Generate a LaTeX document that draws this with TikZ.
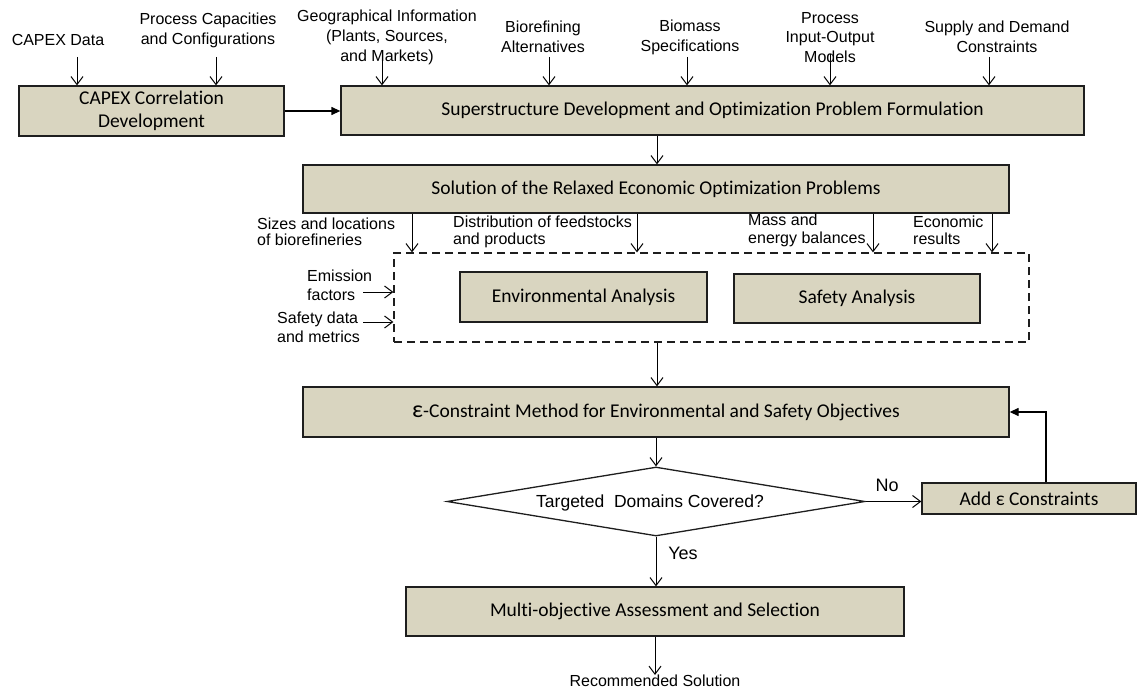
\documentclass[tikz,border=0pt]{standalone}
\usepackage{fontspec}
\setmainfont{Liberation Sans}
\newfontfamily\boxfont[Ligatures=NoCommon]{Carlito}
\usetikzlibrary{arrows.meta,shapes.geometric}
\definecolor{boxfill}{RGB}{217,213,192}
\definecolor{boxline}{RGB}{30,30,30}
\begin{document}
\begin{tikzpicture}[x=1pt,y=-1pt,
 procbox/.style={draw=boxline,line width=1.3pt,fill=boxfill,inner sep=0pt,align=center,font=\boxfont\fontsize{19.5}{23}\selectfont},
 lbl/.style={inner sep=0pt,align=center,font=\fontsize{16}{19.5}\selectfont},
 arr/.style={line width=1pt,-{Straight Barb[length=8pt,width=12pt]}},
 farr/.style={line width=1.3pt,-{Triangle[length=9pt,width=8pt]}},
]
\useasboundingbox (0,0) rectangle (1138,690);

% main boxes
\node[procbox,minimum width=265pt,minimum height=50pt] (capex) at (151.5,111) {CAPEX Correlation\\Development};
\node[procbox,minimum width=743pt,minimum height=49pt] (super) at (712.5,110.5) {Superstructure Development and Optimization Problem Formulation};
\node[procbox,minimum width=706pt,minimum height=48pt] (sol) at (656,189) {Solution of the Relaxed Economic Optimization Problems};
\node[draw=boxline,line width=1.3pt,dash pattern=on 8pt off 5pt,minimum width=635pt,minimum height=89pt,inner sep=0pt] (dash) at (711.5,297.5) {};
\node[procbox,minimum width=247pt,minimum height=50pt] (env) at (583.5,297) {Environmental Analysis};
\node[procbox,minimum width=246pt,minimum height=49pt] (saf) at (857,298.5) {Safety Analysis};
\node[procbox,minimum width=706pt,minimum height=50pt] (eps) at (656,412) {{\fontsize{24}{23}\selectfont ε}-Constraint Method for Environmental and Safety Objectives};
\node[diamond,draw=boxline,line width=1.3pt,fill=white,minimum width=418pt,minimum height=69pt,inner sep=0pt,aspect=6] (dia) at (656,501.5) {};
\node[lbl,font=\fontsize{17.5}{20}\selectfont] (diatxt) at (650,503) {Targeted\ \ Domains Covered?};
\node[procbox,minimum width=214pt,minimum height=31pt] (add) at (1029,498.5) {Add ε Constraints};
\node[procbox,minimum width=498pt,minimum height=49pt] (multi) at (655,611.5) {Multi-objective Assessment and Selection};
\node[lbl] (rec) at (655,681) {Recommended Solution};

% top labels
\node[lbl] (l1) at (58,40) {CAPEX Data};
\node[lbl] (l2) at (208,30.5) {Process Capacities\\and Configurations};
\node[lbl,font=\fontsize{16}{20}\selectfont] (l3) at (387,37) {Geographical Information\\(Plants, Sources,\\and Markets)};
\node[lbl,font=\fontsize{16}{20}\selectfont] (l4) at (543,37) {Biorefining\\Alternatives};
\node[lbl,font=\fontsize{16}{20}\selectfont] (l5) at (690,37) {Biomass\\Specifications};
\node[lbl] (l6) at (830,37.5) {Process\\Input-Output\\Models};
\node[lbl,font=\fontsize{16}{20}\selectfont] (l7) at (997,37) {Supply and Demand\\Constraints};

% top arrows
\coordinate (t1) at (77,57);
\coordinate (t2) at (216,57);
\coordinate (t3) at (382,56);
\coordinate (t4) at (549,57);
\coordinate (t5) at (687,57);
\coordinate (t6) at (830,54);
\coordinate (t7) at (989,57);
\draw[arr] (t1) -- (t1 |- capex.north);
\draw[arr] (t2) -- (t2 |- capex.north);
\draw[arr] (t3) -- (t3 |- super.north);
\draw[arr] (t4) -- (t4 |- super.north);
\draw[arr] (t5) -- (t5 |- super.north);
\draw[arr] (t6) -- (t6 |- super.north);
\draw[arr] (t7) -- (t7 |- super.north);
\draw[farr] (capex.east) -- (capex.east -| super.west);

% middle labels
\node[lbl,align=left,anchor=west,font=\fontsize{16}{16.5}\selectfont] (s1) at (257,232) {Sizes and locations\\of biorefineries};
\node[lbl,align=left,anchor=west,font=\fontsize{16}{16.5}\selectfont] (s2) at (453,232) {Distribution of feedstocks\\and products};
\node[lbl,align=left,anchor=west,font=\fontsize{16}{18}\selectfont] (s3) at (748,230) {Mass and\\energy balances};
\node[lbl,align=left,anchor=west,font=\fontsize{16}{17}\selectfont] (s4) at (913,230.5) {Economic\\results};
\node[lbl,align=left,anchor=west,font=\fontsize{16}{19}\selectfont] (e1) at (307,285.5) {Emission\\factors};
\node[lbl,align=left,anchor=west,font=\fontsize{16}{19}\selectfont] (e2) at (277,327.5) {Safety data\\and metrics};

\coordinate (m) at (657,0);
\coordinate (d1) at (412,0);
\coordinate (d2) at (637,0);
\coordinate (d3) at (873,0);
\coordinate (d4) at (992,0);
\draw[arr] (super.south -| m) -- (sol.north -| m);
\draw[arr] (sol.south -| d1) -- (dash.north -| d1);
\draw[arr] (sol.south -| d2) -- (dash.north -| d2);
\draw[arr] (sol.south -| d3) -- (dash.north -| d3);
\draw[arr] (sol.south -| d4) -- (dash.north -| d4);
\coordinate (ea) at (363,292);
\coordinate (sa) at (363,322);
\draw[arr] (ea) -- (ea -| dash.west);
\draw[arr] (sa) -- (sa -| dash.west);
\draw[arr] (dash.south -| m) -- (eps.north -| m);

% lower flow
\draw[arr] (eps.south -| dia.north) -- (dia.north);
\draw[arr] (dia.east) -- (dia.east -| add.west);
\node[lbl,font=\fontsize{18}{20}\selectfont] (no) at (887,485) {No};
\draw[arr] (dia.south) -- (multi.north -| dia.south);
\node[lbl,font=\fontsize{18}{20}\selectfont] (yes) at (683,553) {Yes};
\coordinate (fb) at (1046,0);
\draw[farr] (add.north -| fb) |- (eps.east);
\draw[arr] (multi.south) -- (rec.north);
\end{tikzpicture}
\end{document}
